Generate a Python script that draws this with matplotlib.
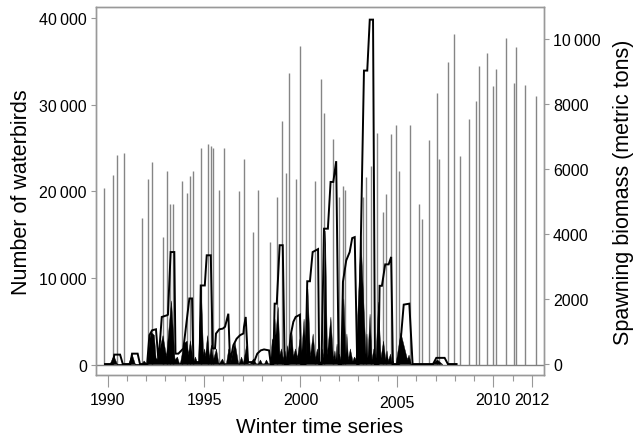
import matplotlib
matplotlib.use("Agg")
import matplotlib.pyplot as plt
import matplotlib.transforms as mtransforms
from matplotlib.ticker import FixedLocator, MultipleLocator

plt.rcParams['font.family'] = ['Liberation Sans', 'DejaVu Sans']

# waterbird counts (thin vertical lines, left axis)
bird_years = [1989.83, 1990.30, 1990.48, 1990.84, 1991.79, 1992.11, 1992.32, 1992.85, 1993.07, 1993.22,
              1993.41, 1993.84, 1994.13, 1994.27, 1994.43, 1994.83, 1995.19, 1995.35, 1995.48, 1995.78,
              1996.04, 1996.83, 1997.07, 1997.54, 1997.80, 1998.42, 1998.78, 1999.03, 1999.25, 1999.40,
              1999.78, 1999.99, 2000.73, 2001.05, 2001.22, 2001.71, 2002.01, 2002.19, 2002.32, 2003.22,
              2003.38, 2003.67, 2003.98, 2004.29, 2004.45, 2004.70, 2004.96, 2005.12, 2005.70, 2006.16,
              2006.32, 2006.66, 2007.06, 2007.20, 2007.66, 2007.95, 2008.28, 2008.72, 2009.08, 2009.25,
              2009.68, 2009.97, 2010.13, 2010.65, 2011.05, 2011.18, 2011.63, 2012.19]
bird_counts = [20400, 21950, 24250, 24450, 16900, 21400, 23400, 14700, 22300, 18500,
               18500, 21150, 19800, 21800, 22400, 24950, 25500, 25200, 25000, 20200,
               25000, 20000, 23700, 15300, 20200, 14200, 19400, 28100, 22100, 33600,
               21400, 36700, 21150, 32900, 29000, 26050, 19400, 20650, 20200, 19400,
               21650, 22900, 26700, 17600, 19700, 26600, 27700, 22300, 27700, 18500,
               16800, 25900, 31300, 23750, 34900, 38100, 24100, 28300, 30400, 34450,
               35900, 32100, 34100, 37700, 32500, 36600, 32200, 31000]

# spawning biomass (outlined line, right axis)
biomass_years = [1989.87, 1990.27, 1990.35, 1990.65, 1990.79, 1991.18, 1991.27, 1991.56, 1991.68, 1992.05,
                 1992.17, 1992.31, 1992.51, 1992.64, 1992.81, 1993.07, 1993.13, 1993.27, 1993.46, 1993.52,
                 1993.67, 1993.93, 1994.24, 1994.38, 1994.45, 1994.77, 1994.83, 1995.04, 1995.14, 1995.35,
                 1995.45, 1995.57, 1995.62, 1995.79, 1995.97, 1996.09, 1996.26, 1996.35, 1996.52, 1996.69,
                 1996.87, 1997.04, 1997.07, 1997.16, 1997.28, 1997.59, 1997.76, 1997.94, 1998.11, 1998.37,
                 1998.46, 1998.59, 1998.66, 1998.77, 1998.92, 1999.08, 1999.18, 1999.35, 1999.49, 1999.63,
                 1999.75, 1999.97, 2000.04, 2000.26, 2000.35, 2000.49, 2000.63, 2000.91, 2000.97, 2001.09,
                 2001.22, 2001.42, 2001.56, 2001.70, 2001.85, 2001.98, 2002.12, 2002.20, 2002.37, 2002.55,
                 2002.68, 2002.81, 2002.94, 2003.01, 2003.29, 2003.46, 2003.59, 2003.76, 2003.86, 2004.04,
                 2004.10, 2004.22, 2004.39, 2004.57, 2004.70, 2004.79, 2005.09, 2005.35, 2005.64, 2005.81,
                 2006.87, 2007.04, 2007.47, 2007.64, 2008.09]
biomass_tons = [0, 0, 290, 290, 0, 0, 320, 320, 0, 0,
                890, 1040, 1070, 80, 1450, 1500, 1520, 3450, 3450, 320,
                320, 480, 2020, 2020, 60, 60, 2420, 2420, 3350, 3350,
                480, 480, 940, 1070, 1090, 1150, 1550, 60, 580, 780,
                890, 940, 1140, 1450, 60, 60, 320, 420, 450, 420,
                0, 0, 1860, 1860, 3660, 3660, 0, 0, 890, 1300,
                1450, 1520, 0, 0, 2550, 2550, 3450, 3540, 0, 0,
                4170, 4170, 5610, 5610, 6250, 0, 0, 2530, 3190, 3450,
                3880, 3910, 0, 0, 9040, 9040, 10610, 10610, 0, 0,
                2410, 2410, 3070, 3070, 3300, 0, 0, 1830, 1860, 0,
                0, 190, 190, 0, 0]

# spawn events (black filled area, right axis)
fill_years = [1990.10, 1990.30, 1990.49, 1991.06, 1991.25, 1991.42,
              1991.74, 1991.87, 1991.99, 1992.05, 1992.17, 1992.23, 1992.40, 1992.49,
              1992.56, 1992.85, 1993.03, 1993.29, 1993.47, 1993.60, 1993.70,
              1993.76, 1993.95, 1994.10, 1994.17, 1994.27, 1994.43, 1994.53, 1994.64,
              1994.69, 1994.83, 1994.95, 1995.00, 1995.05, 1995.16, 1995.26, 1995.36, 1995.47, 1995.62, 1995.73,
              1995.78, 1995.93, 1996.04, 1996.14, 1996.26, 1996.35, 1996.58, 1996.76,
              1996.81, 1996.92, 1997.02, 1997.18, 1997.28, 1997.38, 1997.54, 1997.69,
              1997.79, 1997.90, 1998.00, 1998.11, 1998.21, 1998.32,
              1998.42, 1998.52, 1998.60, 1998.65, 1998.70, 1998.82, 1998.91, 1998.99, 1999.09, 1999.17,
              1999.25, 1999.30, 1999.38, 1999.53, 1999.61, 1999.72, 1999.82, 1999.95, 2000.03, 2000.16,
              2000.26, 2000.36, 2000.49, 2000.63, 2000.75, 2000.85, 2000.96,
              2001.04, 2001.11, 2001.17, 2001.27, 2001.37, 2001.55, 2001.68, 2001.76, 2001.81, 2001.87,
              2001.92, 2001.99, 2002.09, 2002.22, 2002.33, 2002.38, 2002.46, 2002.56, 2002.69, 2002.77,
              2002.85, 2003.11, 2003.37, 2003.42, 2003.47, 2003.58, 2003.68, 2003.78, 2003.89, 2004.02,
              2004.15, 2004.28, 2004.39, 2004.46, 2004.53, 2004.64, 2004.72, 2004.77, 2004.85,
              2004.92, 2005.18, 2005.52, 2005.60, 2005.73, 2006.76, 2007.07, 2007.35]
fill_tons = [0, 270, 0, 0, 310, 0,
             0, 110, 30, 60, 800, 990, 900, 200,
             150, 890, 250, 1960, 150, 230, 30,
             60, 650, 720, 300, 730, 60, 230, 40,
             80, 2420, 300, 480, 250, 890, 200, 600, 150, 480, 60,
             30, 170, 30, 40, 480, 60, 680, 40,
             30, 230, 40, 580, 20, 20, 170, 20,
             20, 140, 20, 20, 140, 20,
             30, 790, 500, 1400, 900, 1760, 300, 480, 150, 420,
             150, 580, 200, 990, 250, 480, 200, 790, 250, 1400,
             300, 2320, 250, 940, 150, 480, 80,
             80, 480, 200, 4110, 300, 1460, 150, 420, 150, 630,
             100, 320, 100, 2020, 300, 940, 150, 480, 100, 230,
             150, 3910, 300, 940, 200, 1550, 150, 480, 200, 1920,
             200, 720, 150, 420, 100, 320, 60, 110, 0,
             0, 970, 150, 290, 0, 0, 140, 0]

year_ticks = [1990, 1995, 2000, 2005, 2010, 2012]
bird_ticks = [0, 10000, 20000, 30000, 40000]
bird_labels = ['0', '10\u2009000', '20\u2009000', '30\u2009000', '40\u2009000']
tons_ticks = [0, 2000, 4000, 6000, 8000, 10000]
tons_labels = ['0', '2000', '4000', '6000', '8000', '10\u2009000']

frame_col = '#999999'

fig = plt.figure(figsize=(6.39, 4.39), dpi=100)
ax = fig.add_axes([0.1502, 0.1435, 0.7011, 0.8376])

ax.vlines(bird_years, 0, bird_counts, color='#858585', lw=1.0, zorder=1)
ax.axhline(0, color='#808080', lw=1.0, zorder=1)
ax.set_xlim(1989.40, 2012.62)
ax.set_ylim(-1126, 41195)

ax2 = ax.twinx()
ax2.fill_between(fill_years, 0, fill_tons, color='black', lw=0.3, edgecolor='black')
ax2.plot(biomass_years, biomass_tons, color='black', lw=1.4, solid_joinstyle='miter')
ax2.set_ylim(-338, 10990)

for a in (ax, ax2):
    for s in a.spines.values():
        s.set_color(frame_col)
        s.set_linewidth(1.0)

ax.xaxis.set_major_locator(FixedLocator(year_ticks))
ax.xaxis.set_minor_locator(MultipleLocator(1))
ax.set_xticklabels([str(y) for y in year_ticks])
ax.tick_params(axis='x', which='major', length=8.5, width=0.8, color=frame_col,
               labelsize=11.5, pad=3.5)
ax.tick_params(axis='x', which='minor', length=4.5, width=0.8, color=frame_col)

ax.set_yticks(bird_ticks)
ax.set_yticklabels(bird_labels)
ax.tick_params(axis='y', length=3.5, width=0.8, color=frame_col, labelsize=11.5, pad=3)

ax2.set_yticks(tons_ticks)
ax2.set_yticklabels(tons_labels)
ax2.tick_params(axis='y', length=3.5, width=0.8, color=frame_col, labelsize=11.5, pad=3)

ax.set_xlabel('Winter time series', fontsize=15, labelpad=5)
ax.set_ylabel('Number of waterbirds', fontsize=15.5, labelpad=5)
ax2.set_ylabel('Spawning biomass (metric tons)', fontsize=15.5, labelpad=9)

# the 2005 label sits a little lower in the original
fig.canvas.draw()
for lbl in ax.get_xticklabels():
    if lbl.get_text() == '2005':
        lbl.set_transform(lbl.get_transform() +
                          mtransforms.ScaledTranslation(0, -3 / 100, fig.dpi_scale_trans))

fig.savefig('out.png', dpi=100)
